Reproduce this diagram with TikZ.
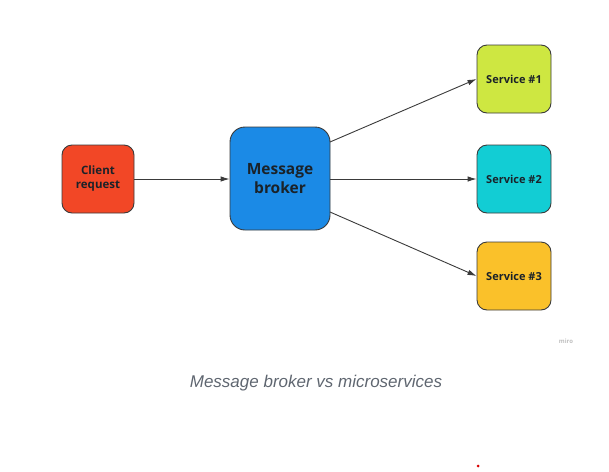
\documentclass[tikz,border=0pt]{standalone}
\usepackage{fontspec}
\setmainfont{Open Sans}
\newfontfamily\capfont{Liberation Sans}
\usetikzlibrary{arrows.meta}
\definecolor{cred}{HTML}{F24726}
\definecolor{cblue}{HTML}{1B8AE6}
\definecolor{cgreen}{HTML}{CEE741}
\definecolor{ccyan}{HTML}{12CDD4}
\definecolor{cyellow}{HTML}{FAC12A}
\definecolor{edge}{HTML}{3A3A3A}
\definecolor{txt}{HTML}{1A2229}
\definecolor{capgray}{HTML}{5F6670}
\tikzset{
  box/.style={draw=edge, line width=0.9pt, rounded corners=10pt, align=center, font=\bfseries\fontsize{11}{13}\selectfont, text=txt, inner sep=0pt},
  link/.style={draw=edge, line width=0.9pt, -{Latex[length=9pt,width=5.5pt]}}
}
\begin{document}
\begin{tikzpicture}[x=1pt,y=-1pt]
\useasboundingbox (0,0) rectangle (609,471);
\node[box, fill=cred, minimum width=72pt, minimum height=68pt, font=\bfseries\fontsize{11.5}{14}\selectfont] (client) at (98,179) {Client\\request};
\node[box, fill=cblue, rounded corners=15pt, minimum width=100pt, minimum height=103pt, font=\bfseries\fontsize{15.5}{19}\selectfont] (broker) at (280,178.5) {Message\\broker};
\node[box, fill=cgreen, minimum width=74pt, minimum height=68pt] (s1) at (514,79) {Service \#1};
\node[box, fill=ccyan, minimum width=74pt, minimum height=68pt] (s2) at (514,179) {Service \#2};
\node[box, fill=cyellow, minimum width=74pt, minimum height=68pt] (s3) at (514,276) {Service \#3};
\coordinate (b1) at (330,142);
\coordinate (b3) at (330,212);
\draw[link] (client.east) -- (broker.west |- client.east);
\draw[link] (b1) -- (s1.west);
\draw[link] (broker.east |- s2.west) -- (s2.west);
\draw[link] (b3) -- (s3.west);
\node[font=\bfseries\fontsize{6}{7}\selectfont, text=black!25] (miro) at (566,341) {miro};
\node[font=\capfont\itshape\fontsize{17}{20}\selectfont, text=capgray] (cap) at (316,383) {Message broker vs microservices};
\fill[red!85!black] (478,466) circle (1.5pt);
\end{tikzpicture}
\end{document}
